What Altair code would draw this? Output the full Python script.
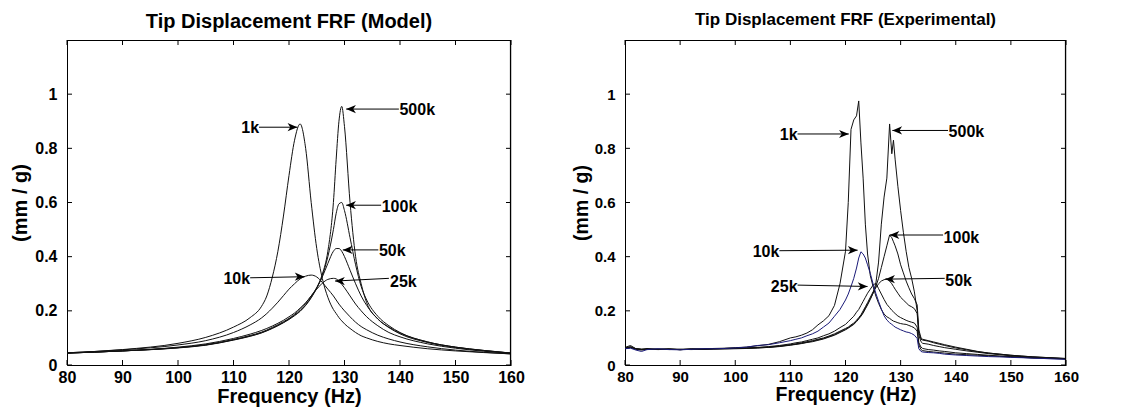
import altair as alt
import pandas as pd

FONT = "Liberation Sans"

X_TICKS = [80, 90, 100, 110, 120, 130, 140, 150, 160]
Y_TICKS = [0, 0.2, 0.4, 0.6, 0.8, 1.0]

# ---------------- Model panel data ----------------
model_freq = [80, 90, 100, 105, 110, 113, 115, 116, 117, 118, 119, 120, 121, 122, 123, 124, 125, 126, 127, 128,
              128.5, 129, 129.5, 130, 131, 132, 133, 134, 136, 138, 140, 145, 150, 155, 160]
model_names = ["1k", "10k", "25k", "50k", "100k", "500k"]
m_1k = [0.045, 0.057, 0.08, 0.102, 0.14, 0.175, 0.215, 0.255, 0.325, 0.42, 0.55, 0.70, 0.83, 0.89, 0.80, 0.60, 0.43, 0.32, 0.25, 0.205,
        0.19, 0.175, 0.163, 0.152, 0.135, 0.12, 0.108, 0.10, 0.087, 0.078, 0.072, 0.06, 0.052, 0.046, 0.041]
m_10k = [0.045, 0.056, 0.074, 0.09, 0.12, 0.148, 0.173, 0.19, 0.21, 0.232, 0.256, 0.28, 0.30, 0.318, 0.328, 0.332, 0.325, 0.305, 0.28, 0.255,
         0.24, 0.225, 0.212, 0.20, 0.178, 0.158, 0.142, 0.13, 0.11, 0.096, 0.085, 0.067, 0.055, 0.047, 0.041]
m_25k = [0.044, 0.052, 0.066, 0.078, 0.098, 0.114, 0.127, 0.135, 0.144, 0.154, 0.165, 0.178, 0.192, 0.21, 0.23, 0.255, 0.28, 0.302, 0.316, 0.32,
         0.318, 0.31, 0.298, 0.285, 0.255, 0.225, 0.20, 0.178, 0.145, 0.12, 0.104, 0.078, 0.062, 0.051, 0.043]
m_50k = [0.044, 0.052, 0.064, 0.075, 0.094, 0.109, 0.121, 0.129, 0.139, 0.149, 0.16, 0.172, 0.187, 0.205, 0.228, 0.255, 0.285, 0.325, 0.375, 0.42,
         0.43, 0.43, 0.42, 0.40, 0.35, 0.30, 0.255, 0.22, 0.17, 0.138, 0.115, 0.083, 0.065, 0.053, 0.044]
m_100k = [0.044, 0.052, 0.064, 0.074, 0.093, 0.107, 0.119, 0.127, 0.136, 0.146, 0.157, 0.17, 0.184, 0.20, 0.222, 0.25, 0.285, 0.33, 0.40, 0.50,
          0.56, 0.595, 0.60, 0.57, 0.47, 0.37, 0.29, 0.24, 0.18, 0.145, 0.12, 0.085, 0.066, 0.054, 0.044]
m_500k = [0.044, 0.052, 0.063, 0.073, 0.092, 0.106, 0.118, 0.126, 0.135, 0.145, 0.156, 0.168, 0.182, 0.198, 0.22, 0.248, 0.285, 0.335, 0.42, 0.60,
          0.76, 0.90, 0.955, 0.88, 0.60, 0.40, 0.30, 0.23, 0.17, 0.14, 0.118, 0.085, 0.066, 0.054, 0.044]

# ---------------- Experimental panel data ----------------
exp_freq = [80, 81, 82, 83, 84, 86, 88, 90, 92, 94,
            96, 98, 100, 102, 104, 106, 108, 110, 111, 112,
            113, 114, 115, 116, 117, 118, 119, 120, 120.5, 121,
            121.5, 122, 122.4, 122.8, 123.2, 123.6, 124, 124.5, 125, 125.5,
            126, 126.5, 127, 127.5, 128, 128.4, 128.7, 129, 129.5, 130,
            130.5, 131, 131.5, 132, 132.5, 133, 133.3, 133.7, 134, 135,
            136, 137, 138, 140, 142, 144, 146, 148, 150, 152,
            154, 156, 158, 160]
exp_names = ["1k", "25k", "50k", "100k", "500k", "10k"]
e_1k = [0.065, 0.072, 0.060, 0.058, 0.061, 0.057, 0.060, 0.056, 0.060, 0.059,
        0.061, 0.062, 0.064, 0.066, 0.071, 0.076, 0.086, 0.100, 0.104, 0.110,
        0.118, 0.130, 0.148, 0.163, 0.182, 0.220, 0.300, 0.420, 0.600, 0.870,
        0.905, 0.920, 0.975, 0.820, 0.690, 0.520, 0.410, 0.330, 0.290, 0.255,
        0.228, 0.205, 0.188, 0.178, 0.172, 0.166, 0.162, 0.160, 0.156, 0.153,
        0.151, 0.150, 0.146, 0.142, 0.137, 0.125, 0.075, 0.057, 0.053, 0.050,
        0.048, 0.046, 0.044, 0.040, 0.038, 0.036, 0.034, 0.032, 0.030, 0.028,
        0.026, 0.025, 0.024, 0.022]
e_10k = [0.060, 0.062, 0.055, 0.050, 0.057, 0.060, 0.057, 0.056, 0.058, 0.060,
         0.060, 0.061, 0.063, 0.066, 0.072, 0.075, 0.082, 0.090, 0.095, 0.100,
         0.108, 0.115, 0.125, 0.140, 0.155, 0.180, 0.205, 0.240, 0.262, 0.290,
         0.320, 0.358, 0.395, 0.418, 0.410, 0.395, 0.370, 0.338, 0.300, 0.265,
         0.235, 0.207, 0.182, 0.166, 0.156, 0.150, 0.145, 0.140, 0.135, 0.130,
         0.126, 0.122, 0.120, 0.116, 0.110, 0.098, 0.060, 0.050, 0.048, 0.046,
         0.045, 0.043, 0.040, 0.037, 0.035, 0.033, 0.031, 0.030, 0.028, 0.027,
         0.025, 0.024, 0.022, 0.021]
e_25k = [0.062, 0.066, 0.058, 0.055, 0.058, 0.059, 0.058, 0.057, 0.058, 0.059,
         0.060, 0.061, 0.062, 0.063, 0.065, 0.068, 0.072, 0.078, 0.082, 0.085,
         0.090, 0.095, 0.100, 0.108, 0.115, 0.125, 0.138, 0.150, 0.160, 0.170,
         0.180, 0.195, 0.205, 0.220, 0.235, 0.250, 0.265, 0.280, 0.295, 0.302,
         0.282, 0.262, 0.242, 0.224, 0.212, 0.202, 0.196, 0.190, 0.181, 0.175,
         0.170, 0.165, 0.161, 0.158, 0.155, 0.140, 0.082, 0.066, 0.061, 0.057,
         0.055, 0.052, 0.050, 0.045, 0.042, 0.039, 0.036, 0.033, 0.031, 0.029,
         0.027, 0.026, 0.024, 0.023]
e_50k = [0.063, 0.068, 0.060, 0.057, 0.059, 0.058, 0.059, 0.058, 0.059, 0.058,
         0.060, 0.060, 0.061, 0.062, 0.064, 0.066, 0.070, 0.075, 0.078, 0.082,
         0.086, 0.090, 0.095, 0.100, 0.107, 0.115, 0.125, 0.135, 0.140, 0.148,
         0.155, 0.165, 0.175, 0.185, 0.200, 0.215, 0.230, 0.250, 0.270, 0.285,
         0.300, 0.310, 0.315, 0.318, 0.310, 0.300, 0.290, 0.280, 0.265, 0.250,
         0.240, 0.230, 0.220, 0.215, 0.208, 0.190, 0.110, 0.086, 0.080, 0.077,
         0.072, 0.068, 0.064, 0.058, 0.052, 0.047, 0.042, 0.038, 0.034, 0.031,
         0.029, 0.027, 0.025, 0.023]
e_100k = [0.061, 0.064, 0.059, 0.058, 0.058, 0.057, 0.058, 0.057, 0.058, 0.058,
          0.059, 0.060, 0.061, 0.062, 0.063, 0.065, 0.069, 0.074, 0.077, 0.080,
          0.084, 0.088, 0.093, 0.098, 0.105, 0.112, 0.122, 0.132, 0.138, 0.145,
          0.152, 0.162, 0.172, 0.182, 0.195, 0.210, 0.225, 0.245, 0.265, 0.290,
          0.320, 0.360, 0.400, 0.440, 0.480, 0.470, 0.455, 0.440, 0.410, 0.370,
          0.340, 0.310, 0.285, 0.262, 0.245, 0.222, 0.130, 0.100, 0.095, 0.090,
          0.085, 0.080, 0.075, 0.066, 0.058, 0.050, 0.044, 0.040, 0.036, 0.033,
          0.030, 0.028, 0.026, 0.024]
e_500k = [0.062, 0.065, 0.060, 0.058, 0.057, 0.058, 0.057, 0.058, 0.057, 0.058,
          0.059, 0.060, 0.060, 0.061, 0.063, 0.065, 0.068, 0.073, 0.076, 0.079,
          0.083, 0.086, 0.091, 0.096, 0.103, 0.110, 0.120, 0.130, 0.136, 0.143,
          0.150, 0.160, 0.170, 0.180, 0.192, 0.207, 0.222, 0.242, 0.265, 0.300,
          0.380, 0.520, 0.620, 0.690, 0.890, 0.780, 0.830, 0.760, 0.660, 0.570,
          0.490, 0.420, 0.360, 0.320, 0.270, 0.200, 0.120, 0.095, 0.092, 0.088,
          0.082, 0.077, 0.072, 0.063, 0.056, 0.049, 0.044, 0.040, 0.036, 0.033,
          0.030, 0.028, 0.026, 0.024]

# ---------------- Annotations (label, text pos, arrow tail, arrow tip) ----------------
m_ann_label = ["1k", "500k", "100k", "50k", "25k", "10k"]
m_ann_text_f = [114.6, 139.9, 136.7, 136.2, 138.2, 113.0]
m_ann_text_v = [0.875, 0.94, 0.585, 0.42, 0.305, 0.317]
m_ann_tail_f = [114.6, 139.8, 136.6, 136.1, 138.0, 113.0]
m_ann_tail_v = [0.878, 0.945, 0.59, 0.425, 0.32, 0.322]
m_ann_tip_f = [121.5, 130.3, 130.3, 129.7, 128.3, 122.8]
m_ann_tip_v = [0.878, 0.945, 0.59, 0.425, 0.31, 0.326]

e_ann_label = ["1k", "500k", "100k", "10k", "25k", "50k"]
e_ann_text_f = [111.3, 138.7, 137.8, 108.0, 111.3, 138.1]
e_ann_text_v = [0.85, 0.862, 0.47, 0.416, 0.287, 0.31]
e_ann_tail_f = [111.3, 138.6, 137.7, 108.0, 111.3, 138.0]
e_ann_tail_v = [0.853, 0.866, 0.48, 0.422, 0.295, 0.32]
e_ann_tip_f = [120.6, 128.5, 128.0, 122.2, 124.0, 127.2]
e_ann_tip_v = [0.853, 0.866, 0.48, 0.424, 0.29, 0.317]

RIGHT_HEAD = "M 0 0 L -1 -0.42 L -0.72 0 L -1 0.42 Z"
LEFT_HEAD = "M 0 0 L 1 -0.42 L 0.72 0 L 1 0.42 Z"


def panel(freq, names, values, colors, ann, title, title_size, title_offset, width, height,
          label_size, axis_title_size, text_size, interp, y_title_pad, y_label_pad):
    rows = []
    for n, vals in zip(names, values):
        for f, v in zip(freq, vals):
            rows.append({"f": f, "v": v, "s": n})
    df = pd.DataFrame(rows)
    xs = alt.Scale(domain=[80, 160], nice=False, zero=False)
    ys = alt.Scale(domain=[0, 1.2], nice=False, zero=False)

    common_axis = dict(labelFont=FONT, labelFontWeight="bold", labelFontSize=label_size, labelColor="black",
                       titleFont=FONT, titleFontWeight="bold", titleFontSize=axis_title_size, titleColor="black",
                       ticks=False, tickSize=0, grid=False, domainColor="black", domainWidth=1,
                       labelFlush=False, labelOverlap=False)

    X = lambda field: alt.X(field, scale=xs)
    Y = lambda field: alt.Y(field, scale=ys)

    lines = alt.Chart(df).mark_line(strokeWidth=1, clip=True, interpolate=interp).encode(
        x=alt.X("f:Q", scale=xs, axis=alt.Axis(values=X_TICKS, title="Frequency (Hz)", labelPadding=4,
                                                titlePadding=1, **common_axis)),
        y=alt.Y("v:Q", scale=ys, axis=alt.Axis(values=Y_TICKS, format="~g", title="(mm / g)",
                                                labelPadding=y_label_pad, titlePadding=y_title_pad, **common_axis)),
        color=alt.Color("s:N", scale=alt.Scale(domain=names, range=colors), legend=None),
        detail="s:N",
    )

    # frame (top and right edges of the box)
    one = pd.DataFrame({"k": [0]})
    frame_top = alt.Chart(one).mark_rule(color="black", strokeWidth=1.2).encode(
        x=alt.value(0), x2=alt.value(width), y=alt.value(0.5))
    frame_right = alt.Chart(one).mark_rule(color="black", strokeWidth=1.2).encode(
        x=alt.value(width - 0.5), y=alt.value(0), y2=alt.value(height))

    xt = pd.DataFrame({"f": X_TICKS})
    yt = pd.DataFrame({"v": Y_TICKS})
    tb = alt.Chart(xt).mark_rule(color="black", strokeWidth=1).encode(
        x=X("f:Q"), y=alt.value(height), y2=alt.value(height - 5))
    tt = alt.Chart(xt).mark_rule(color="black", strokeWidth=1).encode(
        x=X("f:Q"), y=alt.value(0), y2=alt.value(5))
    tl = alt.Chart(yt).mark_rule(color="black", strokeWidth=1).encode(
        y=Y("v:Q"), x=alt.value(0), x2=alt.value(5))
    tr = alt.Chart(yt).mark_rule(color="black", strokeWidth=1).encode(
        y=Y("v:Q"), x=alt.value(width), x2=alt.value(width - 5))

    label, text_f, text_v, tail_f, tail_v, tip_f, tip_v = ann
    dirs = ["R" if h > a else "L" for h, a in zip(tip_f, tail_f)]
    shaft_df = pd.DataFrame({"f": tail_f, "v": tail_v, "f2": tip_f, "v2": tip_v})
    head_df = pd.DataFrame({"f": tip_f, "v": tip_v, "dir": dirs})
    text_df = pd.DataFrame({"f": text_f, "v": text_v, "label": label, "dir": dirs})

    shafts = alt.Chart(shaft_df).mark_rule(color="black", strokeWidth=1).encode(
        x=X("f:Q"), y=Y("v:Q"), x2="f2:Q", y2="v2:Q")
    heads_r = alt.Chart(head_df).transform_filter(alt.datum.dir == "R").mark_point(
        shape=RIGHT_HEAD, filled=True, size=380, color="black", opacity=1, strokeWidth=0).encode(
        x=X("f:Q"), y=Y("v:Q"))
    heads_l = alt.Chart(head_df).transform_filter(alt.datum.dir == "L").mark_point(
        shape=LEFT_HEAD, filled=True, size=380, color="black", opacity=1, strokeWidth=0).encode(
        x=X("f:Q"), y=Y("v:Q"))
    text_l = alt.Chart(text_df).transform_filter(alt.datum.dir == "R").mark_text(
        font=FONT, fontWeight="bold", fontSize=text_size, align="right", baseline="middle", color="black").encode(
        x=X("f:Q"), y=Y("v:Q"), text="label:N")
    text_r = alt.Chart(text_df).transform_filter(alt.datum.dir == "L").mark_text(
        font=FONT, fontWeight="bold", fontSize=text_size, align="left", baseline="middle", color="black").encode(
        x=X("f:Q"), y=Y("v:Q"), text="label:N")

    return alt.layer(lines, tb, tt, tl, tr, frame_top, frame_right, shafts, heads_r, heads_l,
                     text_l, text_r).properties(
        width=width, height=height,
        title=alt.TitleParams(text=title, fontSize=title_size, font=FONT, fontWeight="bold",
                              color="black", anchor="middle", offset=title_offset),
    )


left = panel(model_freq, model_names, [m_1k, m_10k, m_25k, m_50k, m_100k, m_500k],
             ["#111111"] * 6,
             (m_ann_label, m_ann_text_f, m_ann_text_v, m_ann_tail_f, m_ann_tail_v, m_ann_tip_f, m_ann_tip_v),
             "Tip Displacement FRF (Model)", 20, 7, 444, 325, 16, 20, 16, "monotone", 4, 10)
right = panel(exp_freq, exp_names, [e_1k, e_25k, e_50k, e_100k, e_500k, e_10k],
              ["#111111"] * 5 + ["#1a1a78"],
              (e_ann_label, e_ann_text_f, e_ann_text_v, e_ann_tail_f, e_ann_tail_v, e_ann_tip_f, e_ann_tip_v),
              "Tip Displacement FRF (Experimental)", 17, 10, 441, 325, 15, 19.5, 16, "linear", 3, 10)

chart = alt.hconcat(left, right, spacing=45).resolve_scale(color="independent").properties(
    padding={"left": 2, "top": 2, "right": 0, "bottom": 0}
).configure_view(stroke="black", strokeWidth=1).configure(background="white")

chart.save("out.html", embed_options={"renderer": "svg", "actions": False})
